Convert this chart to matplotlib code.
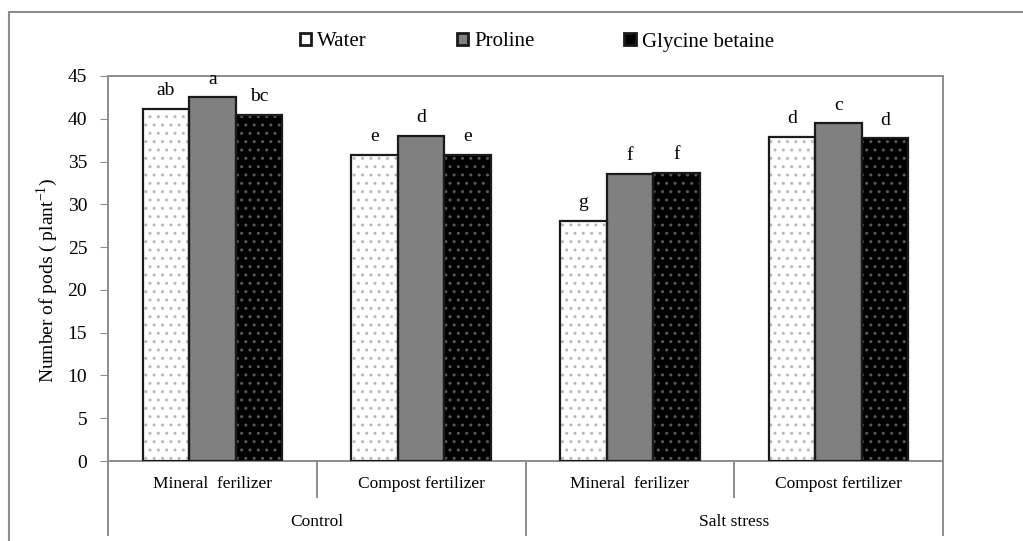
import numpy as np
import matplotlib
matplotlib.use("Agg")
import matplotlib.pyplot as plt
from matplotlib.patches import Patch
from matplotlib.lines import Line2D

plt.rcParams["font.family"] = ["Liberation Serif", "DejaVu Serif"]
plt.rcParams["mathtext.fontset"] = "custom"
plt.rcParams["mathtext.rm"] = "Liberation Serif"
plt.rcParams["hatch.linewidth"] = 1.0

SUBGROUPS = ["Mineral  ferilizer", "Compost fertilizer", "Mineral  ferilizer", "Compost fertilizer"]
GROUPS = ["Control", "Salt stress"]
SERIES = ["Water", "Proline", "Glycine betaine"]

water = [41.2, 35.8, 28.1, 37.9]
proline = [42.5, 38.0, 33.6, 39.5]
glycine = [40.5, 35.8, 33.7, 37.7]

water_letters = ["ab", "e", "g", "d"]
proline_letters = ["a", "d", "f", "c"]
glycine_letters = ["bc", "e", "f", "d"]

AX_GRAY = "#8c8c8c"
EDGE = "#1a1a1a"

fig = plt.figure(figsize=(10.23, 5.41), dpi=100)
ax = fig.add_axes([108 / 1023, 80 / 541, 835 / 1023, 385 / 541])

x = np.arange(len(SUBGROUPS)) + 0.5
w = 0.223
styles = [
    (water, water_letters, "white", "#b8b8b8"),
    (proline, proline_letters, "#808080", None),
    (glycine, glycine_letters, "black", "#5a5a5a"),
]

for i, (vals, letters, fc, dotc) in enumerate(styles):
    xs = x + (i - 1) * w
    # fill, dots, then outline on top
    ax.bar(xs, vals, w, color=fc, linewidth=0, zorder=2)
    if dotc:
        ax.bar(xs, vals, w, color="none", edgecolor=dotc, hatch="..",
               linewidth=0, zorder=3)
    ax.bar(xs, vals, w, color="none", edgecolor=EDGE, linewidth=1.6, zorder=4)
    for xi, v, lab in zip(xs, vals, letters):
        ax.text(xi, v + 1.1, lab, ha="center", va="bottom", fontsize=14)

ax.set_xlim(0, 4)
ax.set_ylim(0, 45)
ax.set_yticks(range(0, 46, 5))
ax.set_xticks([])
ax.tick_params(axis="y", length=6, color=AX_GRAY, labelsize=14, pad=9)
for s in ax.spines.values():
    s.set_color(AX_GRAY)
    s.set_linewidth(1.4)
ax.set_ylabel("Number of pods ( plant$^{\\mathregular{-1}}$)", fontsize=14)
ax.yaxis.set_label_coords(-0.057, 0.47)

# two-level category axis
tr = ax.get_xaxis_transform()
for i, lab in enumerate(SUBGROUPS):
    ax.text(i + 0.5, -0.06, lab, transform=tr, ha="center", va="center", fontsize=12.5)
for j, lab in enumerate(GROUPS):
    ax.text(2 * j + 1, -0.158, lab, transform=tr, ha="center", va="center", fontsize=12.5)
for xv in [1, 3]:
    ax.add_line(Line2D([xv, xv], [0, -0.0935], transform=tr, color=AX_GRAY,
                       lw=1.4, clip_on=False))
for xv in [0, 2, 4]:
    ax.add_line(Line2D([xv, xv], [0, -0.192], transform=tr, color=AX_GRAY,
                       lw=1.4, clip_on=False))

# legend
handles = [
    Patch(facecolor="white", edgecolor=EDGE, linewidth=2),
    Patch(facecolor="#808080", edgecolor=EDGE, linewidth=2),
    Patch(facecolor="black", edgecolor=EDGE, linewidth=2),
]
fig.legend(handles, SERIES, loc="center", bbox_to_anchor=(537 / 1023, 1 - 42 / 541),
           ncol=3, frameon=False, fontsize=15, handlelength=0.55, handleheight=0.55,
           handletextpad=0.3, columnspacing=4.3)

# outer frame
fig.add_artist(Line2D([9 / 1023, 9 / 1023], [0, 1 - 12 / 541], color=AX_GRAY, lw=1.5))
fig.add_artist(Line2D([9 / 1023, 1], [1 - 12 / 541, 1 - 12 / 541], color=AX_GRAY, lw=1.5))

fig.savefig("out.png", dpi=100)
